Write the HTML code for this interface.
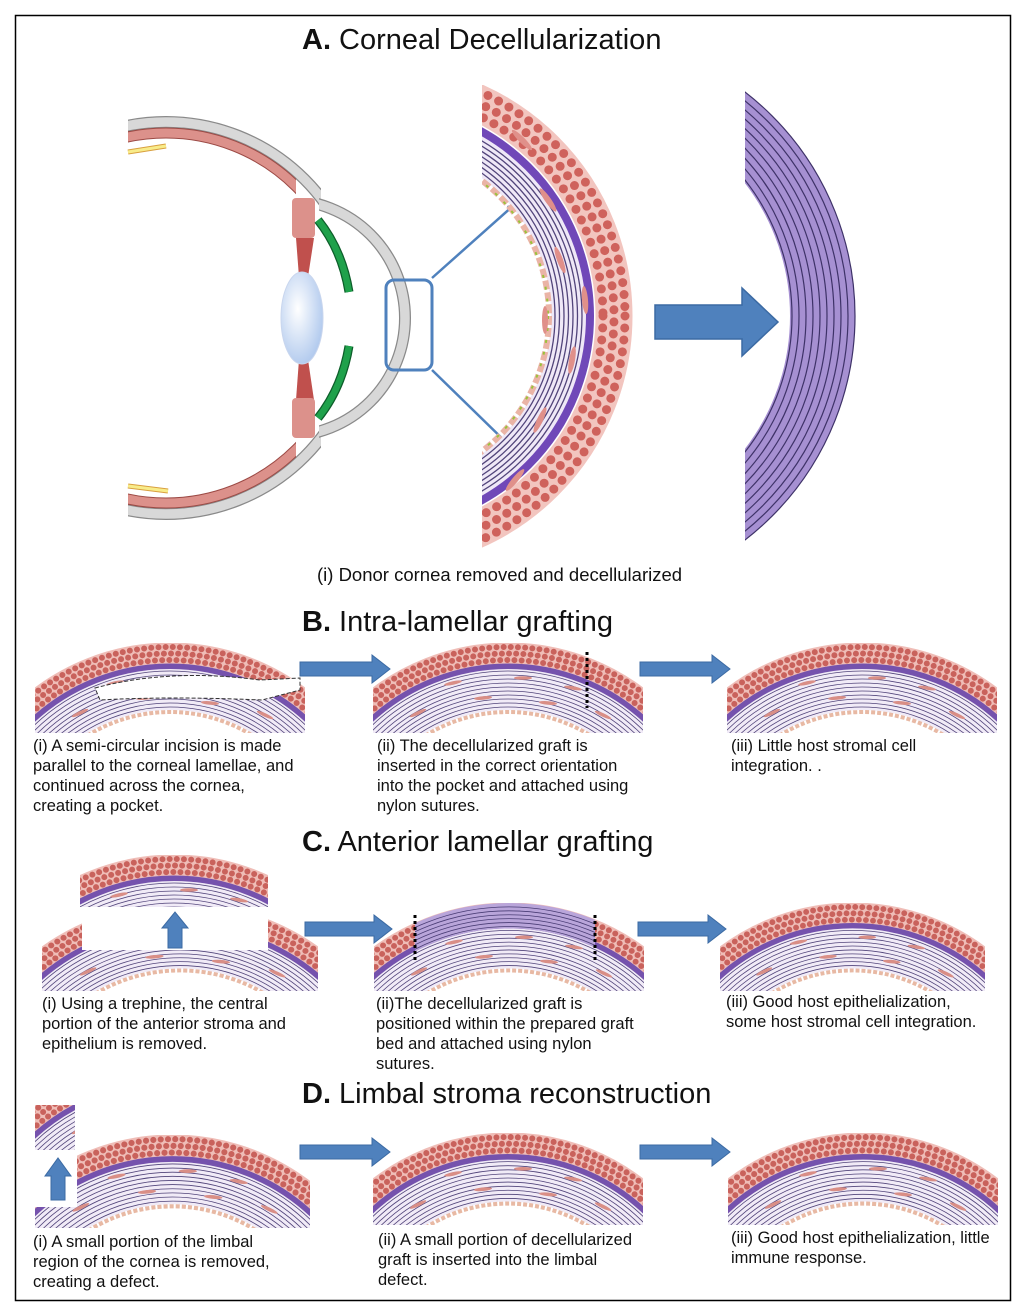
<!DOCTYPE html>
<html><head><meta charset="utf-8"><style>
html,body{margin:0;background:#fff;overflow:hidden;}
#w{position:relative;width:1024px;height:1312px;overflow:hidden;font-family:"Liberation Sans",sans-serif;color:#111;}
.t{position:absolute;font-size:29px;line-height:34px;white-space:nowrap;}
.c{position:absolute;font-size:16.5px;line-height:20px;white-space:nowrap;}
svg{position:absolute;left:0;top:0;}
</style></head><body><div id="w">
<svg width="1024" height="1312" viewBox="0 0 1024 1312">
<defs>
<clipPath id="cc"><rect x="0" y="0" width="270" height="90"/></clipPath>
<clipPath id="cg"><rect x="41" y="0" width="180" height="90"/></clipPath>
<clipPath id="scl"><rect x="128" y="100" width="193" height="440"/></clipPath>
<clipPath id="crn"><rect x="319" y="100" width="140" height="440"/></clipPath>
<clipPath id="chd"><rect x="128" y="100" width="168" height="440"/></clipPath>
<clipPath id="mag"><rect x="482" y="85" width="160" height="468"/></clipPath>
<clipPath id="rgt"><rect x="745" y="85" width="120" height="468"/></clipPath>
<radialGradient id="lg" cx="0.4" cy="0.4" r="0.7"><stop offset="0" stop-color="#ffffff"/><stop offset="1" stop-color="#a9c4ec"/></radialGradient>
<marker id="ah" markerWidth="8" markerHeight="8" refX="6" refY="4" orient="auto" markerUnits="userSpaceOnUse"><path d="M0,0 L8,4 L0,8 Z" fill="#4f81bd"/></marker>
<symbol id="cor" viewBox="0 0 270 90" preserveAspectRatio="none">
<g clip-path="url(#cc)">
<circle cx="135" cy="225" r="178.5" fill="none" stroke="#f1ebf7" stroke-width="41"/>
<g fill="none" stroke="#51447a" stroke-width="0.8">
<circle cx="135" cy="225" r="161"/><circle cx="135" cy="225" r="165"/><circle cx="135" cy="225" r="169"/><circle cx="135" cy="225" r="173"/><circle cx="135" cy="225" r="177"/><circle cx="135" cy="225" r="181"/><circle cx="135" cy="225" r="185"/><circle cx="135" cy="225" r="189"/><circle cx="135" cy="225" r="193"/><circle cx="135" cy="225" r="197"/>
</g>
<circle cx="135" cy="225" r="156" fill="none" stroke="#e8b9a4" stroke-width="4" stroke-dasharray="4 2"/>
<circle cx="135" cy="225" r="202" fill="none" stroke="#7552ad" stroke-width="6"/>
<circle cx="135" cy="225" r="215" fill="none" stroke="#efbdb7" stroke-width="21"/>
<g fill="none" stroke="#c9625c" stroke-width="6" stroke-linecap="round" stroke-dasharray="0 7.2">
<circle cx="135" cy="225" r="221"/><circle cx="135" cy="225" r="214.5" stroke-dashoffset="3.6"/><circle cx="135" cy="225" r="208"/>
</g>
<g fill="#d98e86">
<ellipse cx="80" cy="40" rx="9" ry="1.8" transform="rotate(-12 80 40)"/>
<ellipse cx="150" cy="35" rx="9" ry="1.8"/>
<ellipse cx="200" cy="45" rx="9" ry="1.8" transform="rotate(10 200 45)"/>
<ellipse cx="110" cy="55" rx="9" ry="1.8" transform="rotate(-5 110 55)"/>
<ellipse cx="175" cy="60" rx="9" ry="1.8" transform="rotate(5 175 60)"/>
<ellipse cx="45" cy="70" rx="9" ry="1.8" transform="rotate(-25 45 70)"/>
<ellipse cx="230" cy="72" rx="9" ry="1.8" transform="rotate(25 230 72)"/>
</g>
</g>
</symbol>
</defs>
<rect x="15.5" y="15.5" width="995" height="1285" fill="none" stroke="#000" stroke-width="1.5"/>

<!-- Eye -->
<g clip-path="url(#scl)">
<circle cx="166" cy="318" r="196" fill="none" stroke="#8a8a8a" stroke-width="12"/>
<circle cx="166" cy="318" r="196" fill="none" stroke="#d8d8d8" stroke-width="9.5"/>
</g>
<g clip-path="url(#chd)">
<circle cx="166" cy="318" r="185" fill="none" stroke="#9c4a45" stroke-width="11"/>
<circle cx="166" cy="318" r="185" fill="none" stroke="#dc918b" stroke-width="9"/>
</g>
<g clip-path="url(#crn)">
<circle cx="287" cy="318" r="118" fill="none" stroke="#8a8a8a" stroke-width="12"/>
<circle cx="287" cy="318" r="118" fill="none" stroke="#d8d8d8" stroke-width="9.5"/>
</g>
<line x1="128" y1="152" x2="166" y2="146" stroke="#d9a040" stroke-width="5"/>
<line x1="128" y1="152" x2="166" y2="146" stroke="#f8ec8a" stroke-width="3"/>
<line x1="128" y1="486" x2="168" y2="491" stroke="#d9a040" stroke-width="5"/>
<line x1="128" y1="486" x2="168" y2="491" stroke="#f8ec8a" stroke-width="3"/>
<polygon points="296,238 314,238 306,290 300,290" fill="#c0504d"/>
<polygon points="300,346 306,346 314,400 296,400" fill="#c0504d"/>
<rect x="292" y="198" width="23" height="40" rx="4" fill="#dc918b"/>
<rect x="292" y="398" width="23" height="40" rx="4" fill="#dc918b"/>
<ellipse cx="302" cy="318" rx="21" ry="46" fill="url(#lg)" stroke="#c9d6ee" stroke-width="1"/>
<path d="M318,220 Q342,250 349,292" fill="none" stroke="#0d5e2a" stroke-width="9"/>
<path d="M318,220 Q342,250 349,292" fill="none" stroke="#1fa14b" stroke-width="6.5"/>
<path d="M349,346 Q342,388 318,418" fill="none" stroke="#0d5e2a" stroke-width="9"/>
<path d="M349,346 Q342,388 318,418" fill="none" stroke="#1fa14b" stroke-width="6.5"/>
<rect x="386" y="280" width="46" height="90" rx="8" fill="none" stroke="#4f81bd" stroke-width="3"/>
<line x1="432" y1="278" x2="514" y2="205" stroke="#4f81bd" stroke-width="2.5" marker-end="url(#ah)"/>
<line x1="432" y1="370" x2="514" y2="450" stroke="#4f81bd" stroke-width="2.5" marker-end="url(#ah)"/>

<!-- magnified cornea -->
<g clip-path="url(#mag)">
<circle cx="379" cy="316" r="190" fill="none" stroke="#efe8f7" stroke-width="36"/>
<g fill="none" stroke="#51447a" stroke-width="1.3">
<circle cx="379" cy="316" r="176"/><circle cx="379" cy="316" r="180.5"/><circle cx="379" cy="316" r="185"/><circle cx="379" cy="316" r="189.5"/><circle cx="379" cy="316" r="194"/><circle cx="379" cy="316" r="198.5"/><circle cx="379" cy="316" r="203"/>
</g>
<circle cx="379" cy="316" r="170" fill="none" stroke="#eab4a6" stroke-width="6" stroke-dasharray="9 3"/>
<circle cx="379" cy="316" r="169" fill="none" stroke="#9bc23a" stroke-width="2" stroke-dasharray="3 9"/>
<circle cx="379" cy="316" r="211" fill="none" stroke="#7048b8" stroke-width="8"/>
<circle cx="379" cy="316" r="235" fill="none" stroke="#f2c5bf" stroke-width="37"/>
<g fill="none" stroke="#cf625c" stroke-width="9" stroke-linecap="round" stroke-dasharray="0 12">
<circle cx="379" cy="316" r="246"/><circle cx="379" cy="316" r="235" stroke-dashoffset="6"/><circle cx="379" cy="316" r="224"/>
</g>
<g fill="#e0908a">
<ellipse cx="548" cy="200" rx="3" ry="14" transform="rotate(-35 548 200)"/>
<ellipse cx="560" cy="260" rx="3" ry="14" transform="rotate(-20 560 260)"/>
<ellipse cx="545" cy="320" rx="3" ry="14"/>
<ellipse cx="572" cy="360" rx="3" ry="14" transform="rotate(10 572 360)"/>
<ellipse cx="540" cy="420" rx="3" ry="14" transform="rotate(25 540 420)"/>
<ellipse cx="522" cy="140" rx="3" ry="14" transform="rotate(-45 522 140)"/>
<ellipse cx="585" cy="300" rx="3" ry="14" transform="rotate(-5 585 300)"/>
<ellipse cx="515" cy="480" rx="3" ry="14" transform="rotate(40 515 480)"/>
</g>
</g>

<!-- big arrow -->
<path d="M655,305 L742,305 L742,288 L778,322 L742,356 L742,339 L655,339 Z" fill="#4f81bd" stroke="#3b6aa3" stroke-width="1.5"/>

<!-- decellularized arc -->
<g clip-path="url(#rgt)">
<circle cx="572" cy="316" r="250.5" fill="none" stroke="#a690d2" stroke-width="65"/>
<g fill="none" stroke="#3e3268" stroke-width="1.2">
<circle cx="572" cy="316" r="220"/><circle cx="572" cy="316" r="227"/><circle cx="572" cy="316" r="234"/><circle cx="572" cy="316" r="241"/><circle cx="572" cy="316" r="248"/><circle cx="572" cy="316" r="255"/><circle cx="572" cy="316" r="262"/><circle cx="572" cy="316" r="269"/><circle cx="572" cy="316" r="276"/><circle cx="572" cy="316" r="283"/>
</g>
</g>

<!-- B -->
<use href="#cor" x="35" y="643" width="270" height="90"/>
<path d="M95,688 Q170,668 260,680 L300,678 L300,690 L262,700 Q170,696 100,700 Z" fill="#fff" stroke="#333" stroke-width="1" stroke-dasharray="4 2"/>
<use href="#cor" x="373" y="643" width="270" height="90"/>
<line x1="587" y1="652" x2="587" y2="708" stroke="#000" stroke-width="3" stroke-dasharray="3 3"/>
<use href="#cor" x="727" y="643" width="270" height="90"/>
<path d="M300,662 L372,662 L372,655 L390,669 L372,683 L372,676 L300,676 Z" fill="#4f81bd" stroke="#3b6aa3"/>
<path d="M640,662 L712,662 L712,655 L730,669 L712,683 L712,676 L640,676 Z" fill="#4f81bd" stroke="#3b6aa3"/>

<!-- C -->
<use href="#cor" x="42" y="903" width="276" height="88"/>
<rect x="82" y="903" width="186" height="47" fill="#fff"/>
<svg x="80" y="855" width="188" height="52" viewBox="41 0 188 52" preserveAspectRatio="none"><use href="#cor" x="0" y="0" width="270" height="90"/></svg>
<path d="M168,948 L168,928 L162,928 L175,912 L188,928 L182,928 L182,948 Z" fill="#4f81bd" stroke="#3b6aa3"/>
<svg x="374" y="903" width="270" height="88" viewBox="0 0 270 90" preserveAspectRatio="none">
<use href="#cor" x="0" y="0" width="270" height="90"/>
<g clip-path="url(#cg)">
<circle cx="135" cy="225" r="212" fill="none" stroke="#b9a5da" stroke-width="26"/>
<g fill="none" stroke="#4a3d75" stroke-width="0.8">
<circle cx="135" cy="225" r="201"/><circle cx="135" cy="225" r="205"/><circle cx="135" cy="225" r="209"/><circle cx="135" cy="225" r="213"/><circle cx="135" cy="225" r="217"/><circle cx="135" cy="225" r="221"/>
</g>
</g>
</svg>
<line x1="415" y1="915" x2="415" y2="962" stroke="#000" stroke-width="3" stroke-dasharray="3 3"/>
<line x1="595" y1="915" x2="595" y2="962" stroke="#000" stroke-width="3" stroke-dasharray="3 3"/>
<use href="#cor" x="720" y="903" width="265" height="88"/>
<path d="M305,922 L374,922 L374,915 L392,929 L374,943 L374,936 L305,936 Z" fill="#4f81bd" stroke="#3b6aa3"/>
<path d="M638,922 L708,922 L708,915 L726,929 L708,943 L708,936 L638,936 Z" fill="#4f81bd" stroke="#3b6aa3"/>

<!-- D -->
<use href="#cor" x="35" y="1135" width="275" height="93"/>
<rect x="35" y="1135" width="42" height="72" fill="#fff"/>
<svg x="35" y="1105" width="40" height="45" viewBox="0 45 40 45" preserveAspectRatio="none"><use href="#cor" x="0" y="0" width="270" height="90"/></svg>
<path d="M51,1200 L51,1176 L45,1176 L58,1158 L71,1176 L65,1176 L65,1200 Z" fill="#4f81bd" stroke="#3b6aa3"/>
<use href="#cor" x="373" y="1133" width="270" height="92"/>
<use href="#cor" x="728" y="1133" width="270" height="92"/>
<path d="M300,1145 L372,1145 L372,1138 L390,1152 L372,1166 L372,1159 L300,1159 Z" fill="#4f81bd" stroke="#3b6aa3"/>
<path d="M640,1145 L712,1145 L712,1138 L730,1152 L712,1166 L712,1159 L640,1159 Z" fill="#4f81bd" stroke="#3b6aa3"/>
</svg>

<div class="t" style="left:302px;top:23px;"><b>A.</b> Corneal Decellularization</div>
<div class="c" style="left:317px;top:564px;font-size:18.5px;line-height:22px;">(i) Donor cornea removed and decellularized</div>
<div class="t" style="left:302px;top:605px;"><b>B.</b> Intra-lamellar grafting</div>
<div class="c" style="left:33px;top:736px;">(i) A semi-circular incision is made<br>parallel to the corneal lamellae, and<br>continued across the cornea,<br>creating a pocket.</div>
<div class="c" style="left:377px;top:736px;">(ii) The decellularized graft is<br>inserted in the correct orientation<br>into the pocket and attached using<br>nylon sutures.</div>
<div class="c" style="left:731px;top:736px;">(iii) Little host stromal cell<br>integration. .</div>
<div class="t" style="left:302px;top:825px;"><b>C.</b> Anterior lamellar grafting</div>
<div class="c" style="left:42px;top:994px;">(i) Using a trephine, the central<br>portion of the anterior stroma and<br>epithelium is removed.</div>
<div class="c" style="left:376px;top:994px;">(ii)The decellularized graft is<br>positioned within the prepared graft<br>bed and attached using nylon<br>sutures.</div>
<div class="c" style="left:726px;top:992px;">(iii) Good host epithelialization,<br>some host stromal cell integration.</div>
<div class="t" style="left:302px;top:1077px;"><b>D.</b> Limbal stroma reconstruction</div>
<div class="c" style="left:33px;top:1232px;">(i) A small portion of the limbal<br>region of the cornea is removed,<br>creating a defect.</div>
<div class="c" style="left:378px;top:1230px;">(ii) A small portion of decellularized<br>graft is inserted into the limbal<br>defect.</div>
<div class="c" style="left:731px;top:1228px;">(iii) Good host epithelialization, little<br>immune response.</div>
</div></body></html>
